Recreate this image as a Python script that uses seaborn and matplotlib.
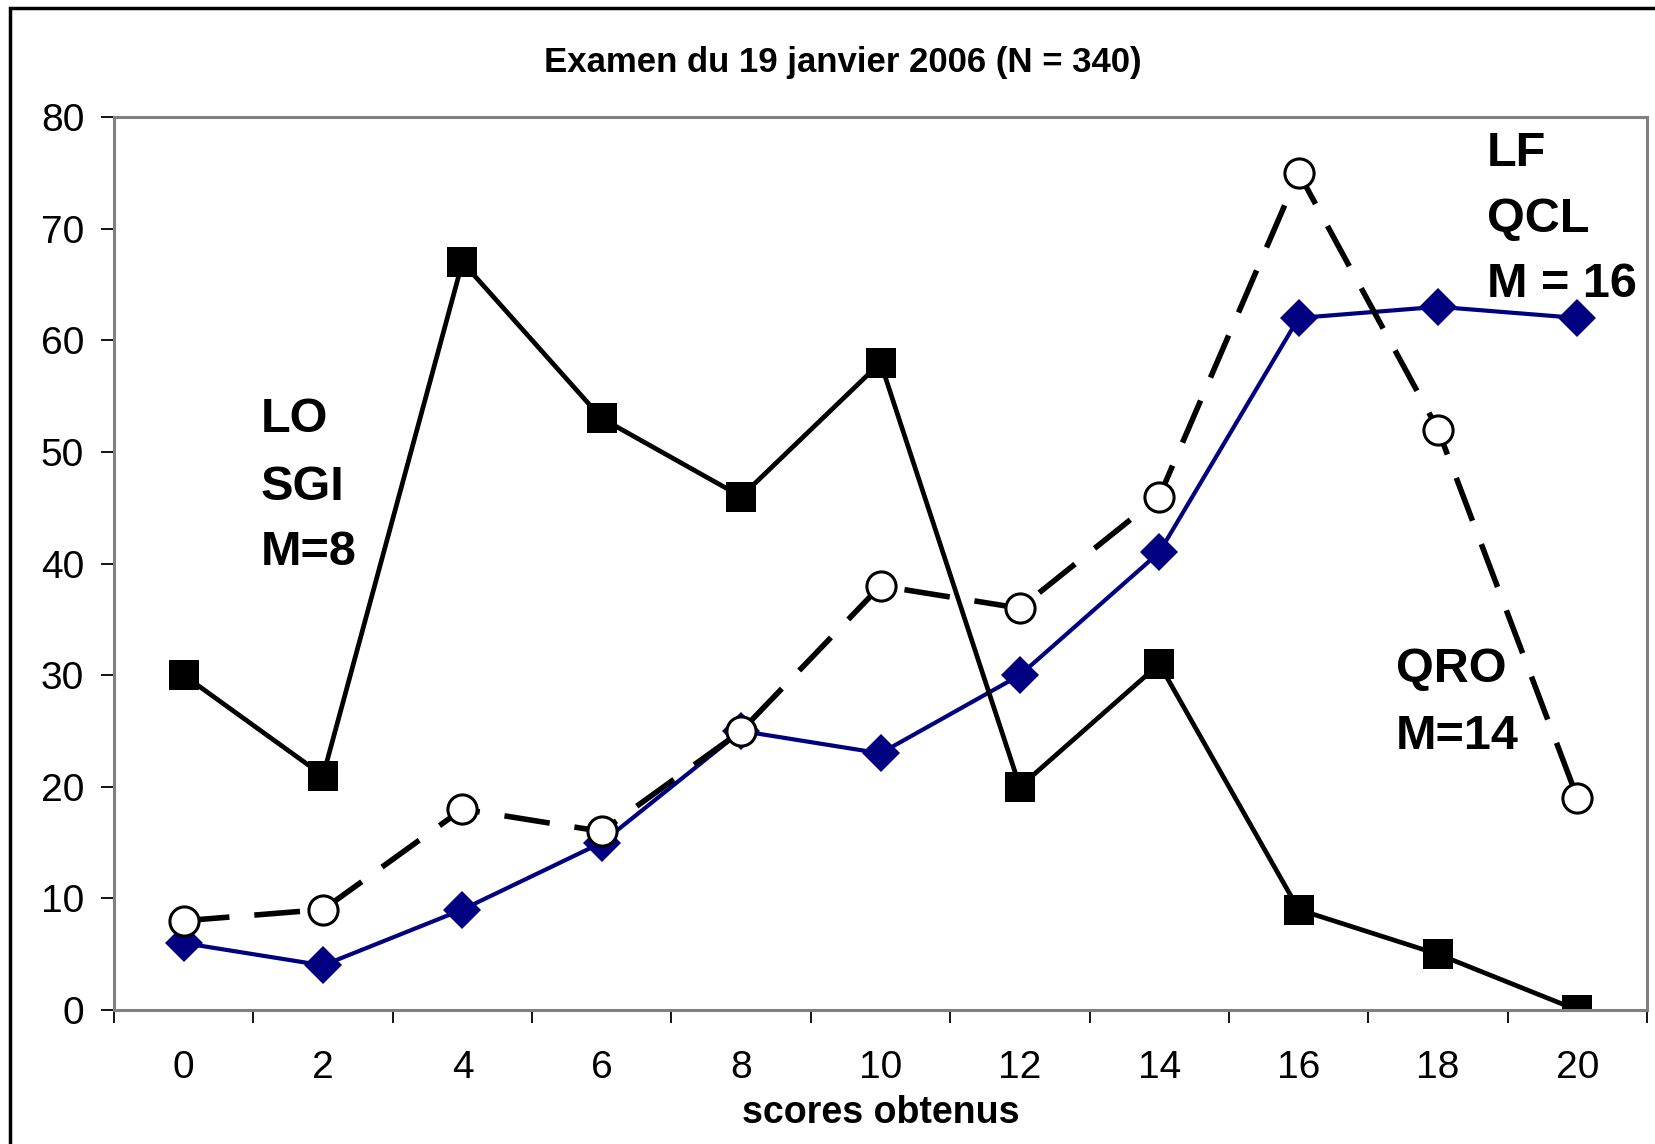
import matplotlib
matplotlib.use("Agg")
import matplotlib.pyplot as plt
from matplotlib.patches import Rectangle
import pandas as pd
import seaborn as sns

# scores obtenus (abscisse)
scores = [0, 2, 4, 6, 8, 10, 12, 14, 16, 18, 20]
# effectifs par série
lo_sgi = [30, 21, 67, 53, 46, 58, 20, 31, 9, 5, 0]
lf_qcl = [6, 4, 9, 15, 25, 23, 30, 41, 62, 63, 62]
qro = [8, 9, 18, 16, 25, 38, 36, 46, 75, 52, 19]

titre = "Examen du 19 janvier 2006 (N = 340)"
xlabel = "scores obtenus"

sns.set_theme(style="white")
plt.rcParams['font.family'] = ['Liberation Sans', 'DejaVu Sans']
plt.rcParams['lines.scale_dashes'] = False
plt.rcParams['text.color'] = 'black'
plt.rcParams['axes.labelcolor'] = 'black'
plt.rcParams['xtick.color'] = 'black'
plt.rcParams['ytick.color'] = 'black'

df = pd.DataFrame({"score": scores, "LO": lo_sgi, "LF": lf_qcl, "QRO": qro})

fig = plt.figure(figsize=(16.55, 11.44), dpi=100)
ax = fig.add_axes([0.0689, 0.1171, 0.9263, 0.7806])

sns.lineplot(data=df, x="score", y="LF", ax=ax, color="#000080", lw=3,
             marker="D", markersize=19, markeredgewidth=0, markeredgecolor="#000080")
sns.lineplot(data=df, x="score", y="LO", ax=ax, color="black", lw=3.4,
             marker="s", markersize=22, markeredgewidth=0, markeredgecolor="black")
sns.lineplot(data=df, x="score", y="QRO", ax=ax, color="black", lw=4, linestyle="--",
             marker="o", markersize=21, markerfacecolor="white",
             markeredgecolor="black", markeredgewidth=2.2)
ax.lines[-1].set_dashes((33, 18))

# axes
ax.set_xlim(-1, 21)
ax.set_ylim(0, 80)
ax.set_xticks(scores)
ax.set_xticks(range(-1, 22, 2), minor=True)
ax.set_yticks(range(0, 81, 10))
ax.tick_params(axis="x", which="major", length=0, pad=29, labelsize=28)
ax.tick_params(axis="x", which="minor", length=9.5, width=1.3, direction="out", bottom=True)
ax.tick_params(axis="y", which="major", length=9.5, width=1.3, direction="out",
               left=True, pad=12, labelsize=28)
for s in ax.spines.values():
    s.set_color("#808080")
    s.set_linewidth(2.2)

ax.set_xlabel(xlabel, fontsize=27, fontweight="bold", labelpad=6)
ax.set_ylabel("")
fig.suptitle(titre, fontsize=25, fontweight="bold", x=0.509, y=0.945, va="center")

# étiquettes des courbes
etiquettes = [
    (1.1, [52.9, 46.8, 41.0], ["LO", "SGI", "M=8"]),
    (18.7, [76.7, 70.8, 65.0], ["LF", "QCL", "M = 16"]),
    (17.4, [30.5, 24.5], ["QRO", "M=14"]),
]
for x0, ys, lignes in etiquettes:
    for y0, t in zip(ys, lignes):
        ax.text(x0, y0, t, fontsize=35, fontweight="bold", va="center", ha="left")

# cadre du graphique
fig.patches.append(Rectangle((0.0063, -0.1), 1.1, 1.093, transform=fig.transFigure,
                             fill=False, edgecolor="black", linewidth=2.5))

fig.savefig("out.png", dpi=100)
